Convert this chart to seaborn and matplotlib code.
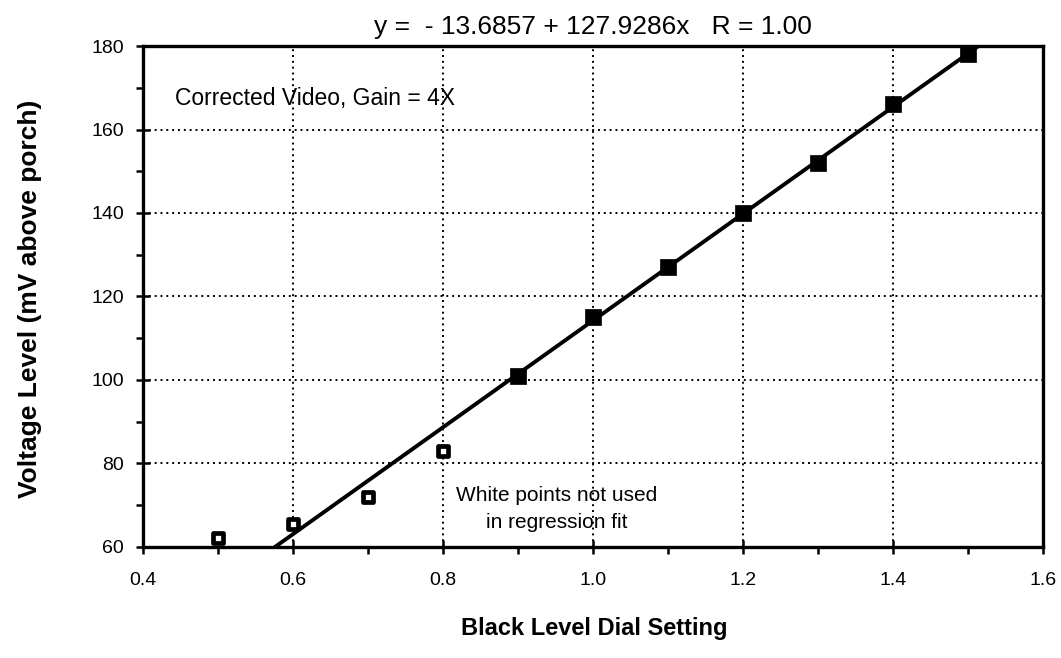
import numpy as np
import pandas as pd
import matplotlib
matplotlib.use("Agg")
import matplotlib.pyplot as plt
from matplotlib.ticker import MultipleLocator
import seaborn as sns

# Measured black level versus dial setting
dial_fit = [0.9, 1.0, 1.1, 1.2, 1.3, 1.4, 1.5]
mv_fit = [101, 115, 127, 140, 152, 166, 178]
dial_excluded = [0.5, 0.6, 0.7, 0.8]
mv_excluded = [62, 65.5, 72, 83]

# Regression coefficients shown in the title
intercept = -13.6857
slope = 127.9286
r_value = 1.00

sns.set_theme(style="white")
plt.rcParams["font.family"] = ["Liberation Sans", "DejaVu Sans"]

fig, ax = plt.subplots(figsize=(10.61, 6.58), dpi=100)
fig.subplots_adjust(left=0.135, right=0.983, top=0.930, bottom=0.169)

line_x = np.linspace(0.4, 1.6, 50)
line_df = pd.DataFrame({"x": line_x, "y": intercept + slope * line_x})
sns.lineplot(data=line_df, x="x", y="y", ax=ax, color="black", lw=2.8, zorder=3)

fit_df = pd.DataFrame({"x": dial_fit, "y": mv_fit})
sns.scatterplot(data=fit_df, x="x", y="y", ax=ax, marker="s", s=120,
                color="black", edgecolor="black", linewidth=0.5, zorder=4)

ex_df = pd.DataFrame({"x": dial_excluded, "y": mv_excluded})
sns.scatterplot(data=ex_df, x="x", y="y", ax=ax, marker="s", s=55,
                color="white", edgecolor="black", linewidth=3.4, zorder=4)

ax.set_xlim(0.4, 1.6)
ax.set_ylim(60, 180)
ax.xaxis.set_major_locator(MultipleLocator(0.2))
ax.xaxis.set_minor_locator(MultipleLocator(0.1))
ax.yaxis.set_major_locator(MultipleLocator(20))
ax.yaxis.set_minor_locator(MultipleLocator(10))
ax.set_xticks(ax.get_xticks())
ax.set_xticklabels([f"{v:.1f}" for v in ax.get_xticks()])
ax.set_xlim(0.4, 1.6)
ax.grid(True, which="major", color="black", linestyle=(0, (1, 2)), linewidth=1.4)

ax.tick_params(axis="both", which="major", direction="inout", length=10, width=1.8,
               colors="black", labelsize=14)
ax.tick_params(axis="x", which="major", pad=13)
ax.tick_params(axis="y", which="major", pad=9)
ax.tick_params(axis="both", which="minor", direction="out", length=5, width=1.8,
               colors="black")
ax.tick_params(axis="x", which="both", bottom=True)
ax.tick_params(axis="y", which="both", left=True)
for side in ax.spines.values():
    side.set_visible(True)
    side.set_color("black")
    side.set_linewidth(2.4)

ax.set_title(f"y =  - {abs(intercept):.4f} + {slope:.4f}x   R = {r_value:.2f}",
             fontsize=19, pad=9, color="black")
ax.set_xlabel("Black Level Dial Setting", fontsize=17, fontweight="bold",
              color="black")
ax.set_ylabel("Voltage Level (mV above porch)", fontsize=19, fontweight="bold",
              color="black")
ax.xaxis.set_label_coords(0.501, -0.140)
ax.yaxis.set_label_coords(-0.113, 0.496)

ax.text(0.443, 167.5, "Corrected Video, Gain = 4X", fontsize=16.5, color="black",
        va="center", ha="left")
ax.text(0.952, 69, "White points not used\nin regression fit", fontsize=15,
        color="black", ha="center", va="center", linespacing=1.55)

fig.savefig("out.png", dpi=100)
